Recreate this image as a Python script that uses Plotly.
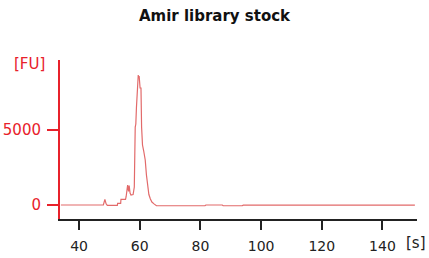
import plotly.graph_objects as go

time_s = [34, 48.0, 48.5, 48.9, 49.3, 52.6, 52.7, 53.7, 53.8, 55.3, 55.5, 56.0, 56.3, 56.5,
          56.8, 57.1, 57.8, 58.2, 58.5, 58.7, 58.9, 59.2, 59.5, 59.6, 59.8, 60.1, 60.4, 60.6,
          60.9, 61.3, 61.8, 62.2, 62.6, 63.0, 63.5, 64.0, 64.8, 65.5, 81.5, 81.8, 87.2, 87.5,
          93.8, 94.1, 150.7]
fu = [0, 0, 380, 80, -30, -30, 110, 110, 380, 380, 550, 1330, 900, 1300,
      800, 670, 700, 1200, 5200, 5400, 6500, 8000, 8667, 8500, 8600, 7800, 7800, 5200,
      4000, 3600, 3000, 2000, 1100, 700, 400, 200, 60, -50, -50, 0, 0, -50,
      -50, -10, -10]

x_ticks = [40, 60, 80, 100, 120, 140]
y_ticks = [0, 5000]

RED = "#e8212b"
TRACE = "#e26a6a"

fig = go.Figure(go.Scatter(x=time_s, y=fu, mode="lines",
                           line=dict(color=TRACE, width=1.2), hoverinfo="skip"))

fig.update_layout(
    width=429, height=258,
    margin=dict(l=60, r=12, t=60, b=39, autoexpand=False),
    paper_bgcolor="white", plot_bgcolor="white",
    showlegend=False,
    font=dict(family="DejaVu Sans", size=13, color="#222"),
    title=dict(text="<b>Amir library stock</b>", x=0.5, xanchor="center",
               y=1 - 16 / 258, yanchor="middle",
               font=dict(family="DejaVu Sans", size=15, color="#111")),
    xaxis=dict(range=[33.7, 151.4], tickvals=x_ticks, showgrid=False, zeroline=False,
               showline=True, linecolor="#222", linewidth=1.5, automargin=False,
               ticks="outside", ticklen=9, tickwidth=1.5, tickcolor="#222",
               ticklabelstandoff=4,
               tickfont=dict(size=14, color="#222")),
    yaxis=dict(range=[-933, 9667], tickvals=y_ticks, showgrid=False, zeroline=False,
               showline=True, linecolor=RED, linewidth=2, automargin=False,
               ticks="outside", ticklen=11, tickwidth=2, tickcolor=RED,
               ticklabelstandoff=3,
               tickfont=dict(size=15, color=RED)),
    annotations=[
        dict(text="[FU]", xref="paper", yref="paper", x=-0.135, y=0.975,
             xanchor="left", yanchor="middle", showarrow=False,
             font=dict(size=15, color=RED)),
        dict(text="[s]", xref="paper", yref="paper", x=1.03, y=-0.151,
             xanchor="right", yanchor="middle", showarrow=False,
             font=dict(size=15, color="#222")),
    ],
)

fig.write_html("out.html", config={"displayModeBar": False},
               post_script="document.body.style.margin='0px';document.body.style.overflow='hidden';")
